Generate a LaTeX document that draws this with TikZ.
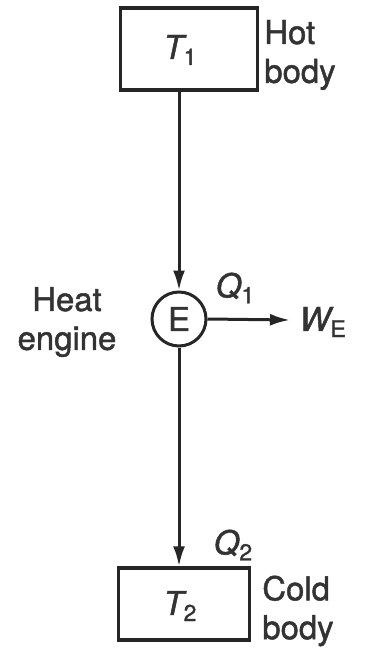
\documentclass[tikz,border=0pt]{standalone}
\usepackage{fontspec}
\setmainfont[FakeBold=1.4]{TeX Gyre Heros}
\usetikzlibrary{arrows.meta}
\newcommand{\sym}[2]{{\itshape #1}\raisebox{-0.35ex}{\fontsize{23}{23}\selectfont #2}}
\begin{document}
\begin{tikzpicture}[x=1bp,y=-1bp,
  every node/.style={font=\fontsize{33}{39}\selectfont, text=black!80},
  body/.style={draw=black!85, line width=3.4bp, rectangle, inner sep=0pt},
  lbl/.style={align=left, inner sep=0pt},
  flow/.style={draw=black!85, line width=3bp, -{Latex[length=20bp,width=12bp]}}]
\useasboundingbox (0,0) rectangle (365,656);
\fill[white] (0,0) rectangle (365,656);
\node[body, minimum width=137bp, minimum height=82bp] (hot) at (189,49) {};
\node (t1) at (180,50) {\sym{T}{1}};
\node[body, minimum width=131bp, minimum height=72bp] (cold) at (184,604) {};
\node (t2) at (180,606) {\sym{T}{2}};
\node[draw=black!85, line width=3bp, circle, minimum size=54bp, inner sep=0pt] (e) at (179,319) {E};
\node[lbl] (hotl) at (300,55) {Hot\\body};
\node[lbl] (coldl) at (298,611) {Cold\\body};
\node[lbl, align=center] (engl) at (67,322) {Heat\\engine};
\node (q1) at (235,288) {\sym{Q}{1}};
\node (q2) at (233,545) {\sym{Q}{2}};
\coordinate (w) at (290,320);
\node[anchor=west] (we) at (296,322) {\sym{W}{E}};
\draw[flow] (hot.south -| e) -- (e);
\draw[flow] (e) -- (cold.north -| e);
\draw[flow] (e.east) -- (w);
\end{tikzpicture}
\end{document}
